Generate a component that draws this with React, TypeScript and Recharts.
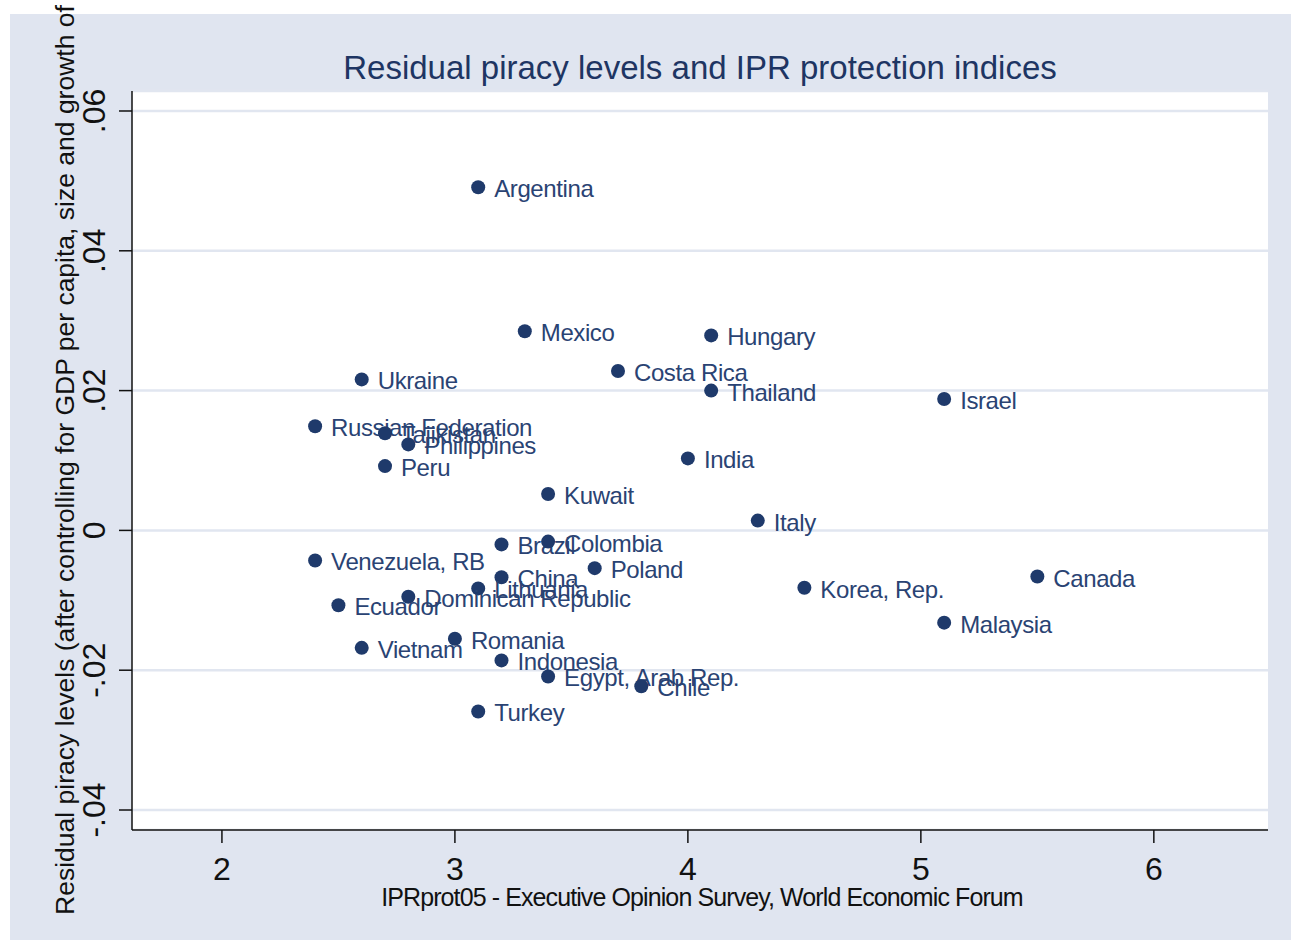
import { CartesianGrid, Scatter, ScatterChart, XAxis, YAxis } from "recharts";

const COUNTRIES = [
  "Argentina", "Mexico", "Hungary", "Ukraine", "Costa Rica", "Thailand", "Israel",
  "Russian Federation", "Tajikistan", "Philippines", "Peru", "India", "Kuwait", "Italy",
  "Brazil", "Colombia", "Venezuela, RB", "Poland", "China", "Canada", "Lithuania",
  "Korea, Rep.", "Dominican Republic", "Ecuador", "Malaysia", "Romania", "Vietnam",
  "Indonesia", "Egypt, Arab Rep.", "Chile", "Turkey",
];
const IPR_PROT = [
  3.1, 3.3, 4.1, 2.6, 3.7, 4.1, 5.1,
  2.4, 2.7, 2.8, 2.7, 4.0, 3.4, 4.3,
  3.2, 3.4, 2.4, 3.6, 3.2, 5.5, 3.1,
  4.5, 2.8, 2.5, 5.1, 3.0, 2.6,
  3.2, 3.4, 3.8, 3.1,
];
const RESIDUAL = [
  0.0491, 0.0285, 0.0279, 0.0216, 0.0228, 0.02, 0.0188,
  0.0149, 0.0139, 0.0123, 0.0092, 0.0103, 0.0052, 0.0014,
  -0.002, -0.0016, -0.0043, -0.0054, -0.0067, -0.0066, -0.0083,
  -0.0082, -0.0095, -0.0107, -0.0132, -0.0155, -0.0168,
  -0.0186, -0.0209, -0.0223, -0.0259,
];
const X_TICKS = [2, 3, 4, 5, 6];
const Y_TICKS = [-0.04, -0.02, 0, 0.02, 0.04, 0.06];
const Y_TICK_LABELS = ["-.04", "-.02", "0", ".02", ".04", ".06"];

const points = COUNTRIES.map((name, i) => ({ name, x: IPR_PROT[i], y: RESIDUAL[i] }));

const FONT = "'Liberation Sans', Arial, sans-serif";
const NAVY = "#1f3a6b";
const BG = "#e0e5f0";

function CountryDot(props: any) {
  const { cx, cy, payload } = props;
  return (
    <g>
      <circle cx={cx} cy={cy} r={7} fill={NAVY} />
      <text
        x={cx + 16}
        y={cy + 10}
        fontSize={24}
        letterSpacing={-0.4}
        fill="#2a4373"
        fontFamily={FONT}
      >
        {payload.name}
      </text>
    </g>
  );
}

function XTick(props: any) {
  const { x, y, payload } = props;
  return (
    <text x={x} y={y} dy={35} textAnchor="middle" fontSize={32} fill="#111" fontFamily={FONT}>
      {payload.value}
    </text>
  );
}

function YTick(props: any) {
  const { x, y, payload } = props;
  const i = Y_TICKS.indexOf(payload.value);
  const bx = x - 12;
  return (
    <text
      x={bx}
      y={y}
      transform={`rotate(-90, ${bx}, ${y})`}
      textAnchor="middle"
      fontSize={32}
      fill="#111"
      fontFamily={FONT}
    >
      {i >= 0 ? Y_TICK_LABELS[i] : payload.value}
    </text>
  );
}

export default function App() {
  return (
    <div style={{ position: "absolute", left: 0, top: 0, width: 1291, height: 940, background: "#fff" }}>
      <div style={{ position: "absolute", left: 10, top: 14, width: 1281, height: 926, background: BG }} />
      <div style={{ position: "absolute", left: 0, top: 0 }}>
        <ScatterChart width={1291} height={940} margin={{ top: 91, right: 23, bottom: 50, left: 72 }}>
          <CartesianGrid
            horizontal
            vertical={false}
            fill="#fff"
            stroke="#e1e6f0"
            strokeWidth={2.5}
          />
          <XAxis
            type="number"
            dataKey="x"
            domain={[1.614, 6.49]}
            ticks={X_TICKS}
            height={60}
            tickSize={13}
            tick={<XTick />}
            axisLine={{ stroke: "#111", strokeWidth: 1.5 }}
            tickLine={{ stroke: "#111", strokeWidth: 1.5 }}
            allowDataOverflow
          />
          <YAxis
            type="number"
            dataKey="y"
            domain={[-0.04286, 0.06286]}
            ticks={Y_TICKS}
            width={60}
            tickSize={13}
            tick={<YTick />}
            axisLine={{ stroke: "#111", strokeWidth: 1.5 }}
            tickLine={{ stroke: "#111", strokeWidth: 1.5 }}
            allowDataOverflow
          />
          <Scatter data={points} shape={<CountryDot />} isAnimationActive={false} />
        </ScatterChart>
      </div>
      <svg
        width={1291}
        height={940}
        style={{ position: "absolute", left: 0, top: 0, pointerEvents: "none" }}
      >
        <text x={700} y={79} textAnchor="middle" fontSize={33} fill="#1e3563" fontFamily={FONT}>
          Residual piracy levels and IPR protection indices
        </text>
        <text
          x={702}
          y={906}
          textAnchor="middle"
          fontSize={25}
          letterSpacing={-0.9}
          fill="#111"
          fontFamily={FONT}
        >
          IPRprot05 - Executive Opinion Survey, World Economic Forum
        </text>
        <text
          x={74}
          y={460}
          transform="rotate(-90, 74, 460)"
          textAnchor="middle"
          fontSize={26.5}
          fill="#111"
          fontFamily={FONT}
        >
          Residual piracy levels (after controlling for GDP per capita, size and growth of
        </text>
      </svg>
    </div>
  );
}
